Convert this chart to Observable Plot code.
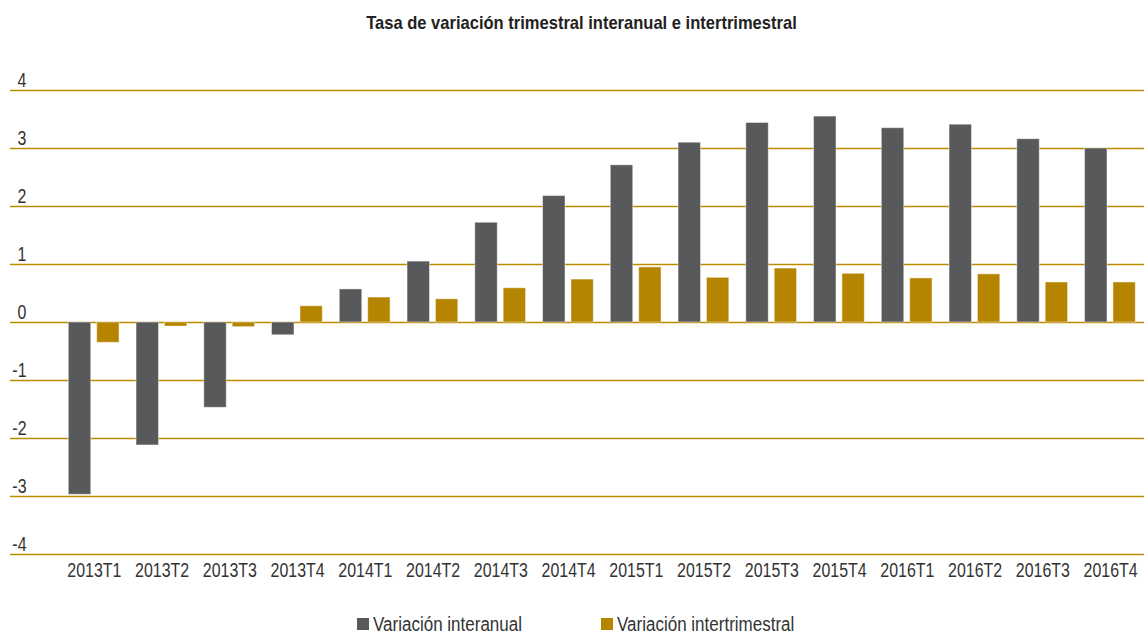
<!DOCTYPE html>
<html>
<head>
<meta charset="utf-8">
<script src="https://cdn.jsdelivr.net/npm/d3@7"></script>
<script src="https://cdn.jsdelivr.net/npm/@observablehq/plot@0.6"></script>
<style>
  html, body { margin: 0; padding: 0; background: #fff; }
  body { width: 1144px; position: relative; font-family: "Liberation Sans", Arial, sans-serif; color: #333; }
  #title { height: 40px; box-sizing: border-box; padding-top: 12px; padding-left: 18px; line-height: 22px; text-align: center; font-weight: bold; font-size: 19px; color: #222; white-space: nowrap; }
  #title span { display: inline-block; transform: scaleX(0.87); transform-origin: center; }
  #legend { position: relative; height: 39px; font-size: 20px; line-height: 22px; color: #333; }
  #legend .item { position: absolute; top: 19px; white-space: nowrap; }
  #legend .sw { position: absolute; top: 5px; width: 12px; height: 12px; }
  #legend .txt { position: absolute; left: 16px; top: 0; display: inline-block; transform: scaleX(0.85); transform-origin: left center; }
</style>
</head>
<body>
<div id="title"><span>Tasa de variación trimestral interanual e intertrimestral</span></div>
<div id="chart"></div>
<div id="legend"></div>
<script>
const quarters = ["2013T1","2013T2","2013T3","2013T4","2014T1","2014T2","2014T3","2014T4","2015T1","2015T2","2015T3","2015T4","2016T1","2016T2","2016T3","2016T4"];
const interanual = [-2.97,-2.12,-1.47,-0.22,0.57,1.05,1.72,2.18,2.71,3.10,3.44,3.55,3.35,3.41,3.16,3.00];
const intertrimestral = [-0.35,-0.07,-0.08,0.28,0.43,0.40,0.59,0.74,0.95,0.77,0.93,0.84,0.76,0.83,0.69,0.69];
const seriesNames = ["Variación interanual", "Variación intertrimestral"];
const seriesColors = ["#58595b", "#b58500"];
const yTicks = [-4,-3,-2,-1,0,1,2,3,4];
const gridColor = "#bb8a00";
const legendLeft = [357, 601];

const rowsA = quarters.map((q, i) => ({quarter: q, value: interanual[i], series: seriesNames[0]}));
const rowsB = quarters.map((q, i) => ({quarter: q, value: intertrimestral[i], series: seriesNames[1]}));

const chart = Plot.plot({
  width: 1144,
  height: 554,
  marginTop: 50,
  marginBottom: 40,
  marginLeft: 60,
  marginRight: 0,
  style: {fontFamily: '"Liberation Sans", Arial, sans-serif', fontSize: "21px", color: "#333", background: "#fff"},
  x: {domain: quarters, padding: 0, round: false, label: null},
  y: {domain: [-4, 4], label: null},
  color: {domain: seriesNames, range: seriesColors},
  marks: [
    Plot.gridY(yTicks, {stroke: gridColor, strokeOpacity: 1, strokeWidth: 1.5}),
    Plot.barY(rowsA, {x: "quarter", y: "value", fill: "series", insetLeft: 8.3, insetRight: 37, stroke: "#fff", strokeOpacity: 0.45, strokeWidth: 1}),
    Plot.barY(rowsB, {x: "quarter", y: "value", fill: "series", insetLeft: 36.7, insetRight: 8.7, stroke: "#fff", strokeOpacity: 0.45, strokeWidth: 1}),
    Plot.axisY(yTicks, {tickSize: 50, stroke: gridColor, strokeWidth: 1.5, tickFormat: () => "", label: null}),
    Plot.axisY(yTicks, {tickSize: 0, tickPadding: 34, fill: "#333", textAnchor: "end", dy: -10.5, fontSize: 21, tickFormat: d => String(d), label: null}),
    Plot.axisX({tickSize: 0, tickPadding: 8, fontSize: 21, fill: "#333", label: null})
  ]
});
// condensed lettering: squeeze each label horizontally around its anchor point
d3.select(chart).selectAll("text").each(function() {
  const t = d3.select(this);
  const xa = t.attr("x");
  const x = xa !== null && isFinite(+xa) ? +xa : 0;
  if (xa !== null && isFinite(+xa)) t.attr("x", null);
  const tr = t.attr("transform") || "";
  t.attr("transform", `${tr} translate(${x},0) scale(0.76,1)`);
});
document.getElementById("chart").appendChild(chart);

const legend = document.getElementById("legend");
seriesNames.forEach((name, i) => {
  const item = document.createElement("div");
  item.className = "item";
  item.style.left = legendLeft[i] + "px";
  const sw = document.createElement("span");
  sw.className = "sw";
  sw.style.background = seriesColors[i];
  const txt = document.createElement("span");
  txt.className = "txt";
  txt.textContent = name;
  item.appendChild(sw);
  item.appendChild(txt);
  legend.appendChild(item);
});
</script>
</body>
</html>
